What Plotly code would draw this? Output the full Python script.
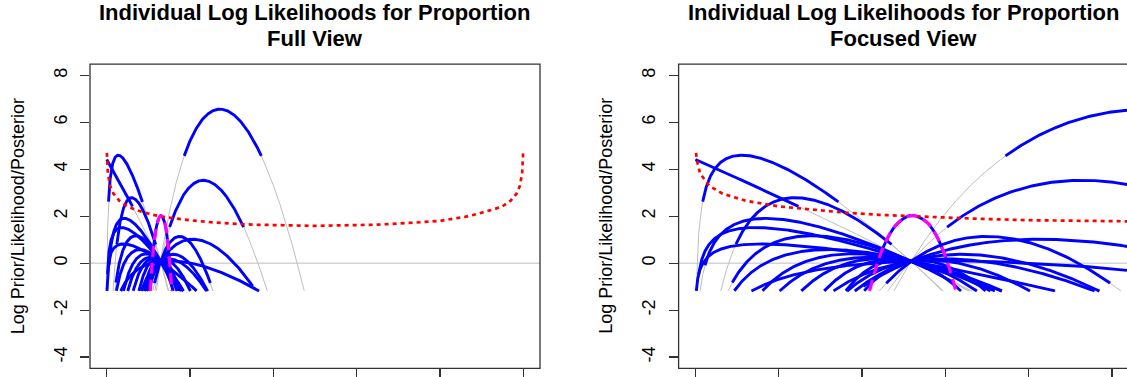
import numpy as np
import plotly.graph_objects as go

# ---------------- values ----------------
crossing_p = 0.1295        # proportion where every individual curve crosses
crossing_value = 0.08      # log value at that crossing
clip_value = -1.19         # curves are not drawn below this value
interval_drop = 2.0        # blue part: within this drop of each curve's maximum

# individual studies: location and height of each curve's maximum
curve_peak_p = [0.000, 0.028, 0.060, 0.0423, 0.0363, 0.070, 0.040, 0.080,
                0.095, 0.105, 0.112, 0.118, 0.122,
                0.272, 0.232, 0.175, 0.207, 0.160, 0.150, 0.140, 0.135, 0.150]
curve_peak_value = [4.42, 4.60, 2.79, 1.91, 1.52, 1.17, 0.82, 0.58,
                    0.40, 0.25, 0.20, 0.16, 0.14,
                    6.56, 3.53, 1.14, 1.02, 0.38, 0.18, 0.13, 0.11, 0.10]

# log prior (red dotted)
prior_p = [0.0005, 0.001, 0.0029, 0.0084, 0.0164, 0.0303, 0.050, 0.070, 0.090,
           0.110, 0.140, 0.166, 0.200, 0.258, 0.350, 0.500, 0.650, 0.742, 0.800,
           0.834, 0.860, 0.890, 0.910, 0.930, 0.950, 0.970, 0.9836, 0.9916,
           0.9971, 0.999, 0.9995]
prior_value = [4.70, 4.35, 3.82, 3.29, 2.96, 2.66, 2.42, 2.27, 2.15,
               2.06, 1.96, 1.90, 1.83, 1.73, 1.64, 1.59, 1.64, 1.73, 1.80,
               1.90, 1.97, 2.10, 2.19, 2.30, 2.42, 2.67, 2.96, 3.29,
               3.82, 4.35, 4.70]

# log posterior (magenta dashed)
post_p = [0.1046, 0.1126, 0.1205, 0.1295, 0.1385, 0.1444, 0.1504, 0.1564]
post_value = [-1.18, 0.65, 1.63, 2.03, 1.77, 1.21, 0.22, -1.18]

title_line1 = "Individual Log Likelihoods for Proportion"
panel_titles = ["Full View", "Focused View"]
y_label = "Log Prior/Likelihood/Posterior"
y_ticks = [-4, -2, 0, 2, 4, 6, 8]
x_ticks_full = [0, 0.2, 0.4, 0.6, 0.8, 1.0]
x_ticks_focus = [0, 0.05, 0.10, 0.15, 0.20, 0.25]

# ---------------- curve construction ----------------
grid = np.unique(np.concatenate([np.geomspace(1e-4, 0.02, 400),
                                 np.linspace(0.02, 0.9999, 4000)]))


def term(a, b):
    return 0.0 if a == 0 else a * np.log(a / b)


gray_x, gray_y, blue_x, blue_y = [], [], [], []


def add_runs(mask, xs, ys, ox, oy):
    idx = np.where(mask)[0]
    if idx.size == 0:
        return
    breaks = np.where(np.diff(idx) > 1)[0]
    starts = np.concatenate([[0], breaks + 1])
    ends = np.concatenate([breaks, [idx.size - 1]])
    for s, e in zip(starts, ends):
        seg = idx[s:e + 1]
        ox.extend(xs[seg].tolist()); ox.append(None)
        oy.extend(ys[seg].tolist()); oy.append(None)


for ph, hv in zip(curve_peak_p, curve_peak_value):
    kl = term(ph, crossing_p) + term(1 - ph, 1 - crossing_p)
    n = (hv - crossing_value) / kl
    ll = (ph * np.log(grid / crossing_p) if ph > 0 else 0.0) + \
        (1 - ph) * np.log((1 - grid) / (1 - crossing_p))
    v = n * ll + crossing_value
    vis = v > clip_value
    add_runs(vis, grid, v, gray_x, gray_y)
    add_runs(vis & (v >= hv - interval_drop), grid, v, blue_x, blue_y)

pp = np.array(post_p); pv = np.array(post_value)
post_blue = pv >= max(post_value) - interval_drop

BLUE = "#0000FF"; GRAY = "#BEBEBE"; RED = "#FF0000"; MAG = "#FF00FF"
FONT = "Liberation Sans"

fig = go.Figure()
for xa, ya in [("x", "y"), ("x2", "y2")]:
    fig.add_trace(go.Scatter(x=gray_x, y=gray_y, mode="lines", xaxis=xa, yaxis=ya,
                             line=dict(color=GRAY, width=1), hoverinfo="skip", showlegend=False))
    fig.add_trace(go.Scatter(x=blue_x, y=blue_y, mode="lines", xaxis=xa, yaxis=ya,
                             line=dict(color=BLUE, width=2.9), hoverinfo="skip", showlegend=False))
    fig.add_trace(go.Scatter(x=pp[post_blue], y=pv[post_blue], mode="lines", xaxis=xa, yaxis=ya,
                             line=dict(color=BLUE, width=2.9, shape="spline"),
                             hoverinfo="skip", showlegend=False))
    fig.add_trace(go.Scatter(x=prior_p, y=prior_value, mode="lines", xaxis=xa, yaxis=ya,
                             line=dict(color=RED, width=2.7, dash="4px,4px"),
                             hoverinfo="skip", showlegend=False))
    fig.add_trace(go.Scatter(x=post_p, y=post_value, mode="lines", xaxis=xa, yaxis=ya,
                             line=dict(color=MAG, width=3.2, dash="11px,6px", shape="spline"),
                             hoverinfo="skip", showlegend=False))

W, H = 1127, 377
top_px, bot_px = 64.6, 371.3
yd = [(H - bot_px) / H, (H - top_px) / H]
left_box = (90.0, 540.0)
right_box = (678.6, 1128.6)

yaxis_common = dict(range=[-4.48, 8.48], domain=yd, tickvals=y_ticks,
                    ticktext=[str(t) for t in y_ticks], tickangle=-90,
                    ticks="outside", ticklen=9, tickwidth=1.2, tickcolor="#333",
                    tickfont=dict(family=FONT, size=18, color="black"),
                    showgrid=False, zeroline=False, showline=False,
                    ticklabelstandoff=6)
xaxis_common = dict(ticks="outside", ticklen=9, tickwidth=1.2, tickcolor="#333",
                    showticklabels=False, showgrid=False, zeroline=False, showline=False)

right_range_end = -0.01 + (W - right_box[0]) * 0.27 / (right_box[1] - right_box[0])

fig.update_layout(
    width=W, height=H, margin=dict(l=0, r=0, t=0, b=0),
    paper_bgcolor="white", plot_bgcolor="white",
    xaxis=dict(domain=[left_box[0] / W, left_box[1] / W], range=[-0.04, 1.04],
               tickvals=x_ticks_full, anchor="y", **xaxis_common),
    yaxis=dict(anchor="x", **yaxis_common),
    xaxis2=dict(domain=[right_box[0] / W, 1.0], range=[-0.01, right_range_end],
                tickvals=x_ticks_focus, anchor="y2", **xaxis_common),
    yaxis2=dict(anchor="x2", **yaxis_common),
)

shapes = []
for (bx0, bx1), xr, yr, xr0, xr1 in [(left_box, "x", "y", -0.04, 1.04),
                                      (right_box, "x2", "y2", -0.01, right_range_end)]:
    shapes.append(dict(type="line", xref=xr, yref=yr, x0=xr0, x1=xr1, y0=0, y1=0,
                       line=dict(color=GRAY, width=1), layer="below"))
    shapes.append(dict(type="rect", xref="paper", yref="paper", x0=bx0 / W, x1=bx1 / W,
                       y0=yd[0], y1=yd[1], line=dict(color="#333", width=1.3)))
fig.update_layout(shapes=shapes)

annotations = []
for (bx0, bx1), sub in zip([left_box, right_box], panel_titles):
    cx = (bx0 + bx1) / 2 / W
    annotations.append(dict(text="<b>" + title_line1 + "</b>", x=cx, y=(H - 13) / H,
                            xref="paper", yref="paper", showarrow=False,
                            xanchor="center", yanchor="middle",
                            font=dict(family=FONT, size=22, color="black")))
    annotations.append(dict(text="<b>" + sub + "</b>", x=cx, y=(H - 38.5) / H,
                            xref="paper", yref="paper", showarrow=False,
                            xanchor="center", yanchor="middle",
                            font=dict(family=FONT, size=22, color="black")))
    annotations.append(dict(text=y_label, x=(bx0 - 72) / W, y=(H - (top_px + bot_px) / 2) / H,
                            xref="paper", yref="paper", showarrow=False, textangle=-90,
                            xanchor="center", yanchor="middle",
                            font=dict(family=FONT, size=18, color="black")))
fig.update_layout(annotations=annotations)

# the page's default body margin would push the figure 8 px off the window origin
fig.write_html("out.html",
               config={"displayModeBar": False, "staticPlot": True},
               post_script="document.body.style.margin='0px';"
                           "document.body.style.padding='0px';"
                           "document.body.style.overflow='hidden';")
